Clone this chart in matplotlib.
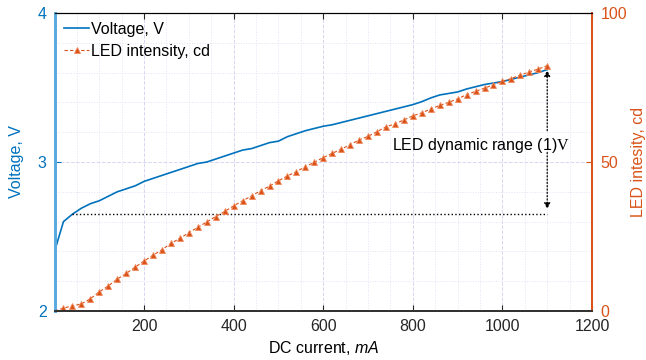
import matplotlib

matplotlib.use("Agg")
import matplotlib.pyplot as plt  # noqa: E402
from matplotlib.ticker import MultipleLocator  # noqa: E402

plt.rcParams["font.family"] = ["Liberation Sans", "DejaVu Sans"]
plt.rcParams["font.size"] = 11.5
plt.rcParams["mathtext.fontset"] = "custom"
plt.rcParams["mathtext.rm"] = "Liberation Serif"
plt.rcParams["mathtext.it"] = "Liberation Sans:italic"

BLUE = "#0072BD"
ORANGE = "#D95319"

# DC current, mA
current = [1, 20, 40, 60, 80, 100, 120, 140, 160, 180, 200, 220, 240, 260,
           280, 300, 320, 340, 360, 380, 400, 420, 440, 460, 480, 500, 520,
           540, 560, 580, 600, 620, 640, 660, 680, 700, 720, 740, 760, 780,
           800, 820, 840, 860, 880, 900, 920, 940, 960, 980, 1000, 1020,
           1040, 1060, 1080, 1100]

# forward voltage, V
voltage = [2.41, 2.60, 2.65, 2.69, 2.72, 2.74, 2.77, 2.80, 2.82, 2.84,
           2.87, 2.89, 2.91, 2.93, 2.95, 2.97, 2.99, 3.00, 3.02, 3.04,
           3.06, 3.08, 3.09, 3.11, 3.13, 3.14, 3.17, 3.19, 3.21, 3.225,
           3.24, 3.25, 3.265, 3.28, 3.295, 3.31, 3.325, 3.34, 3.355, 3.37,
           3.385, 3.405, 3.43, 3.45, 3.46, 3.47, 3.49, 3.505, 3.52, 3.53,
           3.54, 3.555, 3.57, 3.585, 3.60, 3.62]

# LED intensity, cd
intensity = [0.0, 1.0, 1.7, 2.4, 4.1, 6.4, 8.4, 10.7, 12.6, 14.7, 16.8,
             18.7, 20.6, 22.7, 24.4, 26.3, 28.1, 29.9, 31.7, 33.4, 35.3,
             37.0, 38.6, 40.4, 41.9, 43.7, 45.3, 46.8, 48.4, 49.9, 51.5,
             52.9, 54.3, 55.8, 57.4, 58.6, 60.2, 61.8, 62.8, 64.1, 65.5,
             66.5, 67.8, 69.0, 70.0, 71.2, 72.6, 73.7, 74.8, 75.9, 77.1,
             78.0, 79.2, 80.2, 81.2, 82.3]

x_ticks = [200, 400, 600, 800, 1000, 1200]
v_ticks = [2, 3, 4]
i_ticks = [0, 50, 100]

fig = plt.figure(figsize=(6.46, 3.60), dpi=100)
ax1 = fig.add_axes([0.0851, 0.1361, 0.8313, 0.8278])
ax2 = ax1.twinx()

# grid (MATLAB-like: dashed major, dotted minor)
ax1.set_axisbelow(True)
ax1.xaxis.set_minor_locator(MultipleLocator(50))
ax1.yaxis.set_minor_locator(MultipleLocator(0.2))
ax1.grid(True, which="major", ls="--", lw=0.7, color="#d6d6f2")
ax1.grid(True, which="minor", ls=":", lw=0.7, color="#e3e3f6")

l1, = ax1.plot(current, voltage, color=BLUE, lw=1.2)
l2, = ax2.plot(current, intensity, color=ORANGE, ls="--", lw=0.8,
               marker="^", ms=5, mfc=ORANGE, mec="#f08a5d", mew=0.6,
               dashes=(3, 2))

# dynamic range annotation
ax1.plot([current[2], current[-1]], [voltage[2], voltage[2]],
         color="black", ls=":", lw=1.0)
ax2.text(754, 55.4, "LED dynamic range (1)$\\mathrm{V}$", ha="left",
         va="center", fontsize=11.5)
arrow = dict(arrowstyle="-|>", ls=":", lw=0.9, color="black",
             mutation_scale=9, shrinkA=0, shrinkB=0)
ax2.annotate("", xy=(current[-1], intensity[-1] - 1.5),
             xytext=(current[-1], 60.5), arrowprops=arrow)
ax2.annotate("", xy=(current[-1], 34.2), xytext=(current[-1], 53.2),
             arrowprops=arrow)

ax1.set_xlim(1, 1200)
ax1.set_ylim(2, 4)
ax2.set_ylim(0, 100)
ax1.set_xticks(x_ticks)
ax1.set_yticks(v_ticks)
ax2.set_yticks(i_ticks)

ax1.tick_params(which="minor", length=0)
ax1.tick_params(axis="x", direction="in", top=True, length=4, pad=6,
                colors="#262626", labelsize=11.5)
ax1.tick_params(axis="y", direction="in", length=4, pad=6, color=BLUE,
                labelcolor=BLUE, labelsize=11.5)
ax2.tick_params(axis="y", direction="in", length=4, pad=6, color=ORANGE,
                labelcolor=ORANGE, labelsize=11.5)

for ax in (ax1, ax2):
    ax.spines["top"].set_color("black")
    ax.spines["top"].set_linewidth(0.8)
    ax.spines["bottom"].set_color("#333333")
    ax.spines["bottom"].set_linewidth(1.4)
    ax.spines["left"].set_color("#5aaae0")
    ax.spines["left"].set_linewidth(2.0)
    ax.spines["right"].set_color(ORANGE)
    ax.spines["right"].set_linewidth(1.4)

ax1.set_xlabel("DC current, $\\mathit{mA}$", fontsize=11.5, labelpad=3)
ax1.set_ylabel("Voltage, V", color=BLUE, fontsize=11.5, labelpad=10)
ax2.set_ylabel("LED intesity, cd", color=ORANGE, fontsize=11.5, labelpad=3)

ax1.legend([l1, l2], ["Voltage, V", "LED intensity, cd"], loc="upper left",
           frameon=False, fontsize=11.5, handlelength=1.6, handletextpad=0.1,
           borderaxespad=0.25, borderpad=0.3, labelspacing=0.45)

fig.savefig("out.png", dpi=100)
